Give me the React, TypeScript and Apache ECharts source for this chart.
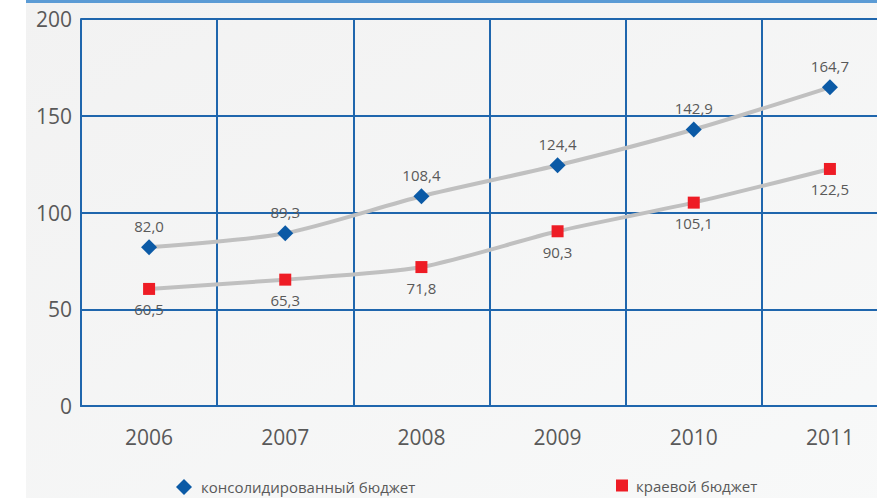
import React, { useEffect, useRef } from "react";
import * as echarts from "echarts";

const years = ["2006", "2007", "2008", "2009", "2010", "2011"];
const consolidated = [82.0, 89.3, 108.4, 124.4, 142.9, 164.7];
const regional = [60.5, 65.3, 71.8, 90.3, 105.1, 122.5];
const seriesNames = ["консолидированный бюджет", "краевой бюджет"];
const yTicks = { min: 0, max: 200, interval: 50 };

const FONT = "'Open Sans', 'Noto Sans', sans-serif";
const fmt = (v: number) => v.toFixed(1).replace(".", ",");

export default function App() {
  const ref = useRef<HTMLDivElement>(null);
  useEffect(() => {
    if (!ref.current) return;
    const chart = echarts.init(ref.current, undefined, { renderer: "svg" });
    chart.setOption({
      animation: false,
      backgroundColor: "#ffffff",
      textStyle: { fontFamily: FONT },
      graphic: [
        {
          type: "rect",
          silent: true,
          z: -10,
          shape: { x: 26, y: 0, width: 920, height: 498 },
          style: {
            fill: new echarts.graphic.LinearGradient(0, 0, 1, 1, [
              { offset: 0, color: "#f2f2f2" },
              { offset: 1, color: "#f8f9f9" },
            ]),
          },
        },
        {
          type: "rect",
          silent: true,
          z: 10,
          shape: { x: 26, y: 0, width: 920, height: 3 },
          style: { fill: "#5b9bd5" },
        },
      ],
      grid: { left: 81, top: 19, right: 22, height: 387, containLabel: false },
      legend: [
        {
          data: [{ name: seriesNames[0], icon: "diamond" }],
          left: 171,
          top: 474,
          itemWidth: 16,
          itemHeight: 16,
          textStyle: {
            fontFamily: FONT,
            fontSize: 15,
            color: "#595959",
            padding: [0, 0, 0, 4],
          },
          selectedMode: false,
        },
        {
          data: [{ name: seriesNames[1], icon: "rect" }],
          left: 611,
          top: 473,
          itemWidth: 12,
          itemHeight: 12,
          textStyle: {
            fontFamily: FONT,
            fontSize: 15,
            color: "#595959",
            padding: [0, 0, 0, 3],
          },
          selectedMode: false,
        },
      ],
      xAxis: {
        type: "category",
        data: years,
        boundaryGap: true,
        axisLine: { show: true, lineStyle: { color: "#1f66ad", width: 2 } },
        axisTick: { show: false },
        splitLine: { show: true, lineStyle: { color: "#1f66ad", width: 2 } },
        axisLabel: {
          fontFamily: FONT,
          fontSize: 21,
          color: "#595959",
          margin: 20,
          interval: 0,
        },
      },
      yAxis: {
        type: "value",
        min: yTicks.min,
        max: yTicks.max,
        interval: yTicks.interval,
        axisLine: { show: true, lineStyle: { color: "#1f66ad", width: 2 } },
        axisTick: { show: false },
        splitLine: { show: true, lineStyle: { color: "#1f66ad", width: 2 } },
        axisLabel: {
          fontFamily: FONT,
          fontSize: 21,
          color: "#595959",
          margin: 9,
        },
      },
      series: [
        {
          name: seriesNames[0],
          type: "line",
          data: consolidated,
          smooth: 0.25,
          symbol: "diamond",
          symbolSize: 16,
          itemStyle: { color: "#0b5aa6" },
          lineStyle: { color: "#c0c0c0", width: 4 },
          label: {
            show: true,
            position: "top",
            distance: 6,
            fontFamily: FONT,
            fontSize: 15,
            color: "#595959",
            formatter: (p: any) => fmt(p.value),
          },
          z: 3,
        },
        {
          name: seriesNames[1],
          type: "line",
          data: regional,
          smooth: 0.25,
          symbol: "rect",
          symbolSize: 12,
          itemStyle: { color: "#ee1c25" },
          lineStyle: { color: "#c0c0c0", width: 4 },
          label: {
            show: true,
            position: "bottom",
            distance: 7,
            fontFamily: FONT,
            fontSize: 15,
            color: "#595959",
            formatter: (p: any) => fmt(p.value),
          },
          z: 3,
        },
      ],
    });
    return () => chart.dispose();
  }, []);
  return (
    <div
      style={{
        position: "fixed",
        left: 0,
        top: 0,
        width: 877,
        height: 498,
        overflow: "hidden",
      }}
    >
      <div ref={ref} style={{ width: 920, height: 498 }} />
    </div>
  );
}
